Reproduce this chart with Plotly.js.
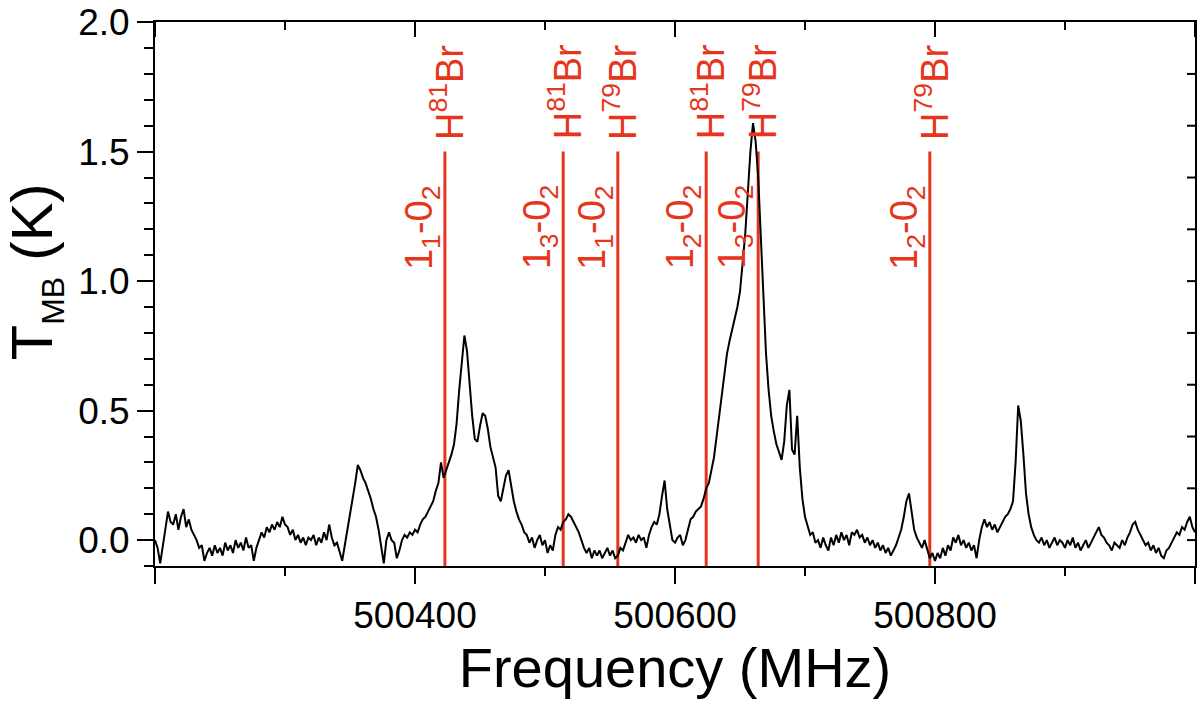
<!DOCTYPE html>
<html>
<head>
<meta charset="utf-8">
<script src="https://cdn.plot.ly/plotly-3.0.1.min.js"></script>
<style>html,body{margin:0;padding:0;background:#fff}#chart{width:1200px;height:716px}</style>
</head>
<body>
<div id="chart"></div>
<script>
// Spectrum: frequency (MHz) and main-beam temperature (K)
const freqMHz = [
500200,500202,500204,500206,500208,500210,500212,500214,500216,500218,
500220,500222,500224,500226,500228,500230,500232,500234,500236,500238,
500240,500242,500244,500246,500248,500250,500252,500254,500256,500258,
500260,500262,500264,500266,500268,500270,500272,500274,500276,500278,
500280,500282,500284,500286,500288,500290,500292,500294,500296,500298,
500300,500302,500304,500306,500308,500310,500312,500314,500316,500318,
500320,500322,500324,500326,500328,500330,500332,500334,500336,500338,
500340,500342,500344,500346,500348,500350,500352,500354,500356,500358,
500360,500362,500364,500366,500368,500370,500372,500374,500376,500378,
500380,500382,500384,500386,500388,500390,500392,500394,500396,500398,
500400,500402,500404,500406,500408,500410,500412,500414,500416,500418,
500420,500422,500424,500426,500428,500430,500432,500434,500436,500438,
500440,500442,500444,500446,500448,500450,500452,500454,500456,500458,
500460,500462,500464,500466,500468,500470,500472,500474,500476,500478,
500480,500482,500484,500486,500488,500490,500492,500494,500496,500498,
500500,500502,500504,500506,500508,500510,500512,500514,500516,500518,
500520,500522,500524,500526,500528,500530,500532,500534,500536,500538,
500540,500542,500544,500546,500548,500550,500552,500554,500556,500558,
500560,500562,500564,500566,500568,500570,500572,500574,500576,500578,
500580,500582,500584,500586,500588,500590,500592,500594,500596,500598,
500600,500602,500604,500606,500608,500610,500612,500614,500616,500618,
500620,500622,500624,500626,500628,500630,500632,500634,500636,500638,
500640,500642,500644,500646,500648,500650,500652,500654,500656,500658,
500660,500662,500664,500666,500668,500670,500672,500674,500676,500678,
500680,500682,500684,500686,500688,500690,500692,500694,500696,500698,
500700,500702,500704,500706,500708,500710,500712,500714,500716,500718,
500720,500722,500724,500726,500728,500730,500732,500734,500736,500738,
500740,500742,500744,500746,500748,500750,500752,500754,500756,500758,
500760,500762,500764,500766,500768,500770,500772,500774,500776,500778,
500780,500782,500784,500786,500788,500790,500792,500794,500796,500798,
500800,500802,500804,500806,500808,500810,500812,500814,500816,500818,
500820,500822,500824,500826,500828,500830,500832,500834,500836,500838,
500840,500842,500844,500846,500848,500850,500852,500854,500856,500858,
500860,500862,500864,500866,500868,500870,500872,500874,500876,500878,
500880,500882,500884,500886,500888,500890,500892,500894,500896,500898,
500900,500902,500904,500906,500908,500910,500912,500914,500916,500918,
500920,500922,500924,500926,500928,500930,500932,500934,500936,500938,
500940,500942,500944,500946,500948,500950,500952,500954,500956,500958,
500960,500962,500964,500966,500968,500970,500972,500974,500976,500978,
500980,500982,500984,500986,500988,500990,500992,500994,500996,500998,
501000
];
const tmbK = [
0.00,-0.03,-0.09,-0.02,0.05,0.11,0.07,0.06,0.10,0.04,
0.09,0.12,0.05,0.08,0.04,0.02,0.00,-0.03,-0.02,-0.08,
-0.05,-0.03,-0.06,-0.02,-0.05,-0.03,-0.06,-0.01,-0.04,-0.02,
-0.05,0.00,-0.03,-0.01,-0.04,0.01,-0.03,-0.02,-0.08,-0.03,
0.00,0.03,0.01,0.05,0.03,0.06,0.04,0.07,0.05,0.09,
0.06,0.05,0.02,0.04,0.00,0.02,-0.01,0.01,-0.02,0.01,
0.00,0.02,-0.02,0.01,-0.01,0.03,0.00,0.06,0.01,-0.02,
-0.01,-0.05,-0.08,-0.02,0.04,0.09,0.15,0.22,0.29,0.27,
0.24,0.22,0.19,0.16,0.12,0.09,0.04,-0.03,-0.09,0.00,
0.03,0.00,-0.01,-0.07,-0.04,0.00,0.02,0.01,0.03,0.02,
0.04,0.03,0.06,0.08,0.09,0.11,0.13,0.15,0.19,0.22,
0.30,0.24,0.27,0.30,0.33,0.37,0.45,0.58,0.70,0.79,
0.73,0.60,0.48,0.39,0.38,0.44,0.49,0.48,0.43,0.36,
0.32,0.28,0.17,0.15,0.20,0.25,0.27,0.21,0.15,0.11,
0.08,0.06,0.03,0.02,-0.01,0.01,-0.03,0.00,0.02,-0.02,
0.00,-0.05,-0.02,-0.04,0.02,0.05,0.04,0.07,0.08,0.10,
0.09,0.07,0.05,0.03,0.00,-0.03,-0.05,-0.03,-0.07,-0.04,
-0.06,-0.04,-0.07,-0.05,-0.03,-0.06,-0.04,-0.07,-0.06,-0.03,
-0.04,-0.01,0.02,0.00,0.01,-0.01,0.02,0.00,0.01,-0.03,
0.02,0.05,0.07,0.06,0.10,0.17,0.23,0.12,0.05,0.00,
-0.01,0.01,0.02,-0.02,0.00,0.04,0.08,0.09,0.11,0.12,
0.13,0.16,0.20,0.22,0.27,0.32,0.40,0.48,0.56,0.65,
0.72,0.77,0.81,0.85,0.90,0.96,1.06,1.18,1.34,1.50,
1.61,1.54,1.40,1.16,0.95,0.72,0.58,0.48,0.42,0.37,
0.34,0.31,0.38,0.52,0.58,0.35,0.33,0.48,0.28,0.16,
0.09,0.05,0.02,0.03,-0.01,0.00,-0.03,0.01,-0.02,-0.04,
0.01,-0.02,0.02,-0.01,0.03,0.00,0.02,-0.02,0.03,0.02,
0.04,0.01,0.02,-0.01,0.01,-0.02,0.00,-0.03,-0.01,-0.04,
-0.02,-0.05,-0.03,-0.06,-0.04,-0.02,0.01,0.04,0.09,0.15,
0.18,0.10,0.04,0.01,-0.01,-0.03,0.00,-0.04,-0.07,-0.05,
-0.08,-0.05,-0.07,-0.03,-0.06,-0.02,-0.04,0.01,-0.01,0.02,
-0.02,0.00,-0.03,-0.01,-0.04,-0.02,-0.07,0.00,0.05,0.08,
0.05,0.07,0.04,0.06,0.03,0.05,0.07,0.09,0.10,0.12,
0.15,0.30,0.52,0.46,0.33,0.18,0.10,0.05,0.02,0.00,
-0.01,0.01,-0.02,0.00,-0.03,-0.01,0.01,-0.02,0.00,-0.01,
-0.03,0.00,-0.02,0.01,-0.03,-0.01,-0.04,-0.02,0.00,-0.03,
-0.01,0.01,0.03,0.05,0.02,0.01,-0.01,-0.02,-0.04,-0.01,
-0.02,-0.03,0.00,-0.02,0.01,0.03,0.06,0.07,0.04,0.02,
0.00,-0.02,-0.01,-0.04,-0.02,-0.05,-0.03,-0.06,-0.07,-0.04,
-0.03,-0.01,0.01,0.03,0.02,0.05,0.04,0.07,0.09,0.05,
0.03
];

// HBr line markers
const lineFreqs = [500423, 500514, 500556, 500624, 500664, 500796];
const lineTopK = 1.5;
const speciesLabels = ["H<sup>81</sup>Br","H<sup>81</sup>Br","H<sup>79</sup>Br","H<sup>81</sup>Br","H<sup>79</sup>Br","H<sup>79</sup>Br"];
const transitionLabels = ["1<sub>1</sub>-0<sub>2</sub>","1<sub>3</sub>-0<sub>2</sub>","1<sub>1</sub>-0<sub>2</sub>","1<sub>2</sub>-0<sub>2</sub>","1<sub>3</sub>-0<sub>2</sub>","1<sub>2</sub>-0<sub>2</sub>"];

// Axis ticks and titles
const xRange = [500200, 501000];
const xMajorTicks = [500200, 500400, 500600, 500800, 501000];
const xMajorLabels = ["", "500400", "500600", "500800", ""];
const xMinorTicks = [500300, 500500, 500700, 500900];
const yRange = [-0.1, 2.0005];
const yMajorTicks = [0, 0.5, 1.0, 1.5, 2.0];
const yMajorLabels = ["0.0", "0.5", "1.0", "1.5", "2.0"];
const yRightTicks = [0, 0.2, 0.4, 0.6, 0.8, 1.0, 1.2, 1.4, 1.6, 1.8];
const xTitle = "Frequency (MHz)";
const yTitle = "T<sub><span style=\"font-size:32px\">MB</span></sub> (K)";

const RED = "#E5351B";
const FONT = "Liberation Sans, Arial, sans-serif";

const W = 1200, H = 716;
const M = {l: 155, r: 5, t: 22, b: 150};
const plotW = W - M.l - M.r, plotH = H - M.t - M.b;
// tick lengths in px converted to data units along each axis
const perPxY = (yRange[1] - yRange[0]) / plotH;
const perPxX = (xRange[1] - xRange[0]) / plotW;

const spectrum = {
  x: freqMHz, y: tmbK, type: "scatter", mode: "lines",
  line: {color: "#000", width: 2}, hoverinfo: "skip", showlegend: false
};

// inward ticks of the top and right frame edges, built from the tick arrays
const fx = [], fy = [];
xMajorTicks.forEach(v => { fx.push(v, v, null); fy.push(yRange[1], yRange[1] - 15 * perPxY, null); });
xMinorTicks.forEach(v => { fx.push(v, v, null); fy.push(yRange[1], yRange[1] - 8 * perPxY, null); });
yRightTicks.forEach(v => { fx.push(xRange[1], xRange[1] - 8 * perPxX, null); fy.push(v, v, null); });
const frameTicks = {
  x: fx, y: fy, type: "scatter", mode: "lines", connectgaps: false, cliponaxis: false,
  line: {color: "#000", width: 2}, hoverinfo: "skip", showlegend: false
};

// red transition markers
const shapes = lineFreqs.map(f => ({
  type: "line", xref: "x", yref: "y", x0: f, x1: f, y0: -0.1, y1: lineTopK,
  line: {color: RED, width: 3}, layer: "below"
}));

const annotations = [];
lineFreqs.forEach((f, i) => {
  annotations.push({
    x: f, y: lineTopK, xref: "x", yref: "y", text: speciesLabels[i],
    showarrow: false, textangle: -90, xanchor: "center", yanchor: "bottom",
    xshift: 2, yshift: 10, font: {family: FONT, size: 38, color: RED}
  });
  annotations.push({
    x: f, y: lineTopK, xref: "x", yref: "y", text: transitionLabels[i],
    showarrow: false, textangle: -90, xanchor: "center", yanchor: "top",
    xshift: -23, yshift: -31, font: {family: FONT, size: 38, color: RED}
  });
});
// y-axis title
annotations.push({
  x: 0, y: 0.54, xref: "paper", yref: "paper", text: yTitle, showarrow: false,
  textangle: -90, xanchor: "right", yanchor: "middle", xshift: -82,
  font: {family: FONT, size: 58, color: "#000"}
});

const layout = {
  width: W, height: H,
  margin: M,
  paper_bgcolor: "#fff", plot_bgcolor: "#fff",
  font: {family: FONT, color: "#000"},
  showlegend: false,
  xaxis: {
    range: xRange, showgrid: false, zeroline: false,
    showline: true, mirror: true, linecolor: "#000", linewidth: 2,
    tickmode: "array", tickvals: xMajorTicks, ticktext: xMajorLabels,
    ticks: "outside", ticklen: 16, tickwidth: 2, tickcolor: "#000",
    tickfont: {size: 37, family: FONT}, ticklabeloverflow: "allow",
    minor: {tickmode: "array", tickvals: xMinorTicks, ticks: "outside", ticklen: 8, tickwidth: 2, tickcolor: "#000"},
    title: {text: xTitle, font: {size: 56, family: FONT}, standoff: 12}
  },
  yaxis: {
    range: yRange, showgrid: false, zeroline: false,
    showline: true, mirror: true, linecolor: "#000", linewidth: 2,
    tickmode: "array", tickvals: yMajorTicks, ticktext: yMajorLabels,
    ticks: "outside", ticklen: 16, tickwidth: 2, tickcolor: "#000",
    tickfont: {size: 37, family: FONT}, ticklabeloverflow: "allow",
    minor: {tick0: 0, dtick: 0.1, ticks: "outside", ticklen: 9, tickwidth: 2, tickcolor: "#000"}
  },
  shapes: shapes,
  annotations: annotations
};

Plotly.newPlot("chart", [frameTicks, spectrum], layout, {displayModeBar: false, staticPlot: true});
</script>
</body>
</html>
